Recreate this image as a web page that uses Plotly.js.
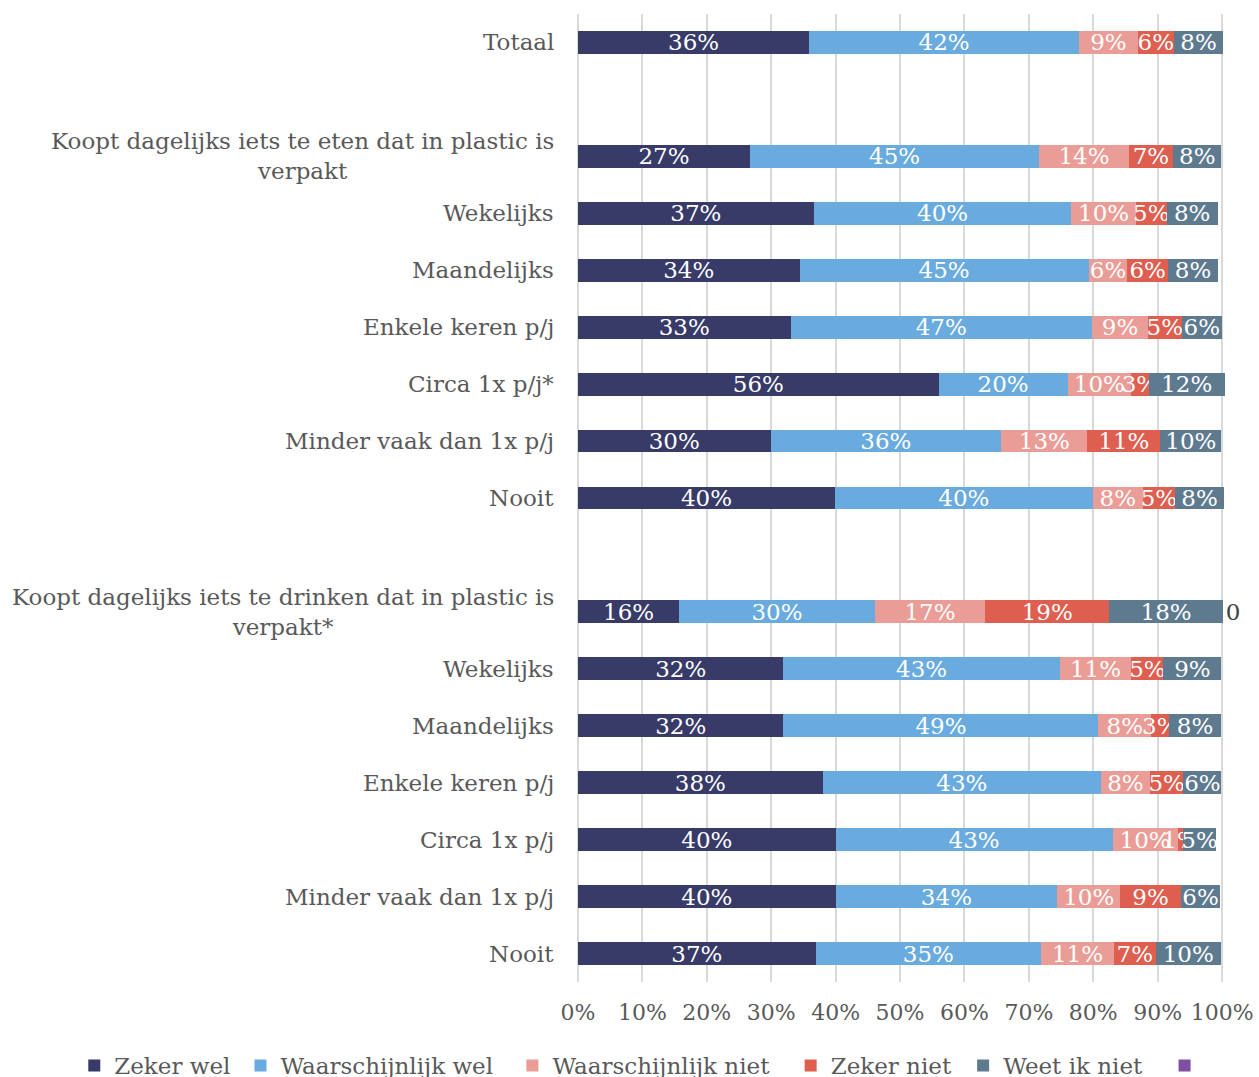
<!DOCTYPE html>
<html>
<head>
<meta charset="utf-8">
<script src="https://cdn.plot.ly/plotly-3.0.1.min.js"></script>
<style>html,body{margin:0;padding:0;background:#fff;}#chart{width:1259px;height:1077px;}</style>
</head>
<body>
<div id="chart"></div>
<script>
// Row labels ("" = empty spacer row)
const categories = [
  "Totaal",
  "",
  "Koopt dagelijks iets te eten dat in plastic is<br>verpakt",
  "Wekelijks",
  "Maandelijks",
  "Enkele keren p/j",
  "Circa 1x p/j*",
  "Minder vaak dan 1x p/j",
  "Nooit",
  "",
  "Koopt dagelijks iets te drinken dat in plastic is<br>verpakt*",
  "Wekelijks",
  "Maandelijks",
  "Enkele keren p/j",
  "Circa 1x p/j",
  "Minder vaak dan 1x p/j",
  "Nooit"
];

const seriesNames = ["Zeker wel", "Waarschijnlijk wel", "Waarschijnlijk niet", "Zeker niet", "Weet ik niet", ""];

// values in percent
const zekerWel          = [35.9, null, 26.7, 36.6, 34.4, 33.0, 56.0, 29.9, 39.9, null, 15.7, 31.9, 31.9, 38.0, 40.0, 40.0, 36.9];
const waarschijnlijkWel = [41.9, null, 44.9, 40.0, 44.9, 46.8, 20.0, 35.8, 40.0, null, 30.4, 42.9, 48.9, 43.2, 43.0, 34.4, 35.0];
const waarschijnlijkNiet= [ 9.1, null, 13.9, 10.0,  6.0,  8.7,  9.9, 13.4,  7.8, null, 17.1, 11.1,  8.2,  7.6, 10.1,  9.8, 11.3];
const zekerNiet         = [ 5.6, null,  6.9,  4.8,  6.3,  5.2,  2.7, 11.3,  5.0, null, 19.3,  5.0,  2.8,  5.2,  0.9,  9.4,  6.5];
const weetIkNiet        = [ 7.7, null,  7.5,  7.9,  7.8,  6.3, 11.8,  9.5,  7.6, null, 17.6,  9.0,  8.0,  5.9,  5.0,  6.1, 10.1];
const overig            = [null, null, null, null, null, null, null, null, null, null,  0,   null, null, null, null, null, null];

const xTickValues = [0, 10, 20, 30, 40, 50, 60, 70, 80, 90, 100];
const xTickText = xTickValues.map(v => v + "%");

const colors = ["#383A68", "#69ABDE", "#EA9D96", "#DE5E50", "#5E7A8F", "#7F4FA0"];
const allSeries = [zekerWel, waarschijnlijkWel, waarschijnlijkNiet, zekerNiet, weetIkNiet, overig];

// horizontal anchor of each legend entry (fraction of page width)
const legendX = [0.059, 0.191, 0.407, 0.628, 0.765, 0.925];

const FONT = "DejaVu Serif, Liberation Serif, serif";
const rowPos = categories.map((c, i) => i);

const traces = allSeries.map((vals, k) => {
  const last = k === 5;
  return {
    type: "bar",
    orientation: "h",
    name: seriesNames[k] === "" ? " " : seriesNames[k],
    legend: k === 0 ? "legend" : "legend" + (k + 1),
    x: vals,
    y: rowPos,
    marker: {color: colors[k], line: {width: 0}},
    texttemplate: last ? "%{x:.0f}" : "%{x:.0f}%",
    textposition: last ? "outside" : "inside",
    insidetextanchor: "middle",
    textangle: 0,
    constraintext: "none",
    cliponaxis: false,
    textfont: {family: FONT, size: 23, color: last ? "#404040" : "#ffffff"},
    hoverinfo: "skip"
  };
});

const annotations = categories.map((c, i) => c === "" ? null : {
  x: 0, xref: "paper", xanchor: "right", xshift: -22,
  y: i, yref: "y", yanchor: "middle",
  text: c, align: "center", showarrow: false,
  font: {family: FONT, size: 23, color: "#595959"}
}).filter(a => a);

const layout = {
  width: 1259, height: 1077,
  margin: {l: 578, r: 34, t: 14, b: 95, pad: 0, autoexpand: false},
  barmode: "stack",
  bargap: 0.6,
  paper_bgcolor: "#ffffff",
  plot_bgcolor: "#ffffff",
  font: {family: FONT, color: "#595959", size: 22},
  showlegend: true,
  xaxis: {
    range: [0, 100.45],
    tickvals: xTickValues,
    ticktext: xTickText,
    showgrid: true, gridcolor: "#D9D9D9", gridwidth: 2,
    zeroline: true, zerolinecolor: "#D9D9D9", zerolinewidth: 2,
    showline: false,
    ticks: "outside", ticklen: 11, tickcolor: "rgba(0,0,0,0)",
    tickfont: {family: FONT, size: 22, color: "#595959"},
    fixedrange: true
  },
  yaxis: {
    range: [categories.length - 0.5, -0.5],
    tickvals: rowPos,
    showticklabels: false,
    showgrid: false, zeroline: false, showline: false,
    fixedrange: true
  },
  annotations: annotations
};

legendX.forEach((lx, k) => {
  const key = k === 0 ? "legend" : "legend" + (k + 1);
  layout[key] = {
    orientation: "h", x: lx, xref: "container", xanchor: "left",
    y: 0.0306, yref: "container", yanchor: "top",
    font: {family: FONT, size: 23, color: "#595959"},
    itemwidth: 30, bgcolor: "rgba(0,0,0,0)"
  };
});

Plotly.newPlot("chart", traces, layout, {displayModeBar: false, staticPlot: true});
</script>
</body>
</html>
